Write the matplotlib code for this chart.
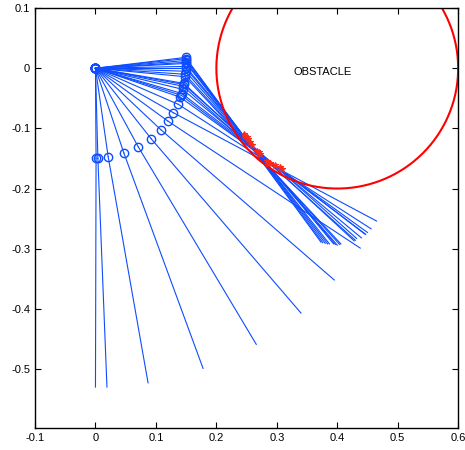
import numpy as np
import matplotlib
matplotlib.use("Agg")
import matplotlib.pyplot as plt

plt.rcParams["font.family"] = ["Liberation Sans", "DejaVu Sans"]

# arm configurations: elbow (joint 2) and tip positions
elbow_x = [0.001, 0.004, 0.021, 0.047, 0.071, 0.092, 0.108, 0.120, 0.129, 0.137,
           0.140, 0.142, 0.143, 0.144, 0.145, 0.146, 0.146, 0.148, 0.148, 0.149,
           0.149, 0.149, 0.150, 0.150, 0.150, 0.150, 0.149]
elbow_y = [-0.150, -0.150, -0.147, -0.141, -0.131, -0.117, -0.102, -0.088, -0.074, -0.060,
           -0.048, -0.045, -0.042, -0.035, -0.030, -0.027, -0.025, -0.014, -0.010, -0.005,
           0.000, 0.003, 0.008, 0.010, 0.013, 0.016, 0.018]
tip_x = [0.000, 0.019, 0.087, 0.178, 0.266, 0.340, 0.395, 0.438, 0.465, 0.456,
         0.450, 0.447, 0.446, 0.440, 0.430, 0.432, 0.428, 0.406, 0.404, 0.400,
         0.397, 0.394, 0.387, 0.384, 0.380, 0.376, 0.373]
tip_y = [-0.530, -0.530, -0.523, -0.499, -0.459, -0.407, -0.352, -0.299, -0.254, -0.267,
         -0.273, -0.276, -0.276, -0.282, -0.286, -0.283, -0.287, -0.292, -0.293, -0.294,
         -0.293, -0.292, -0.292, -0.292, -0.291, -0.290, -0.289]

# contact points marked on the obstacle
contact_x = [0.245, 0.247, 0.250, 0.252, 0.256, 0.259, 0.268, 0.270, 0.272, 0.283,
             0.286, 0.289, 0.297, 0.305, 0.308]
contact_y = [-0.109, -0.112, -0.114, -0.117, -0.122, -0.128, -0.138, -0.140, -0.143, -0.155,
             -0.157, -0.158, -0.161, -0.165, -0.167]

obs_center = (0.4, 0.0)
obs_radius = 0.2

blue = (0.05, 0.3, 1.0)

fig = plt.figure(figsize=(4.65, 4.5), dpi=100)
ax = fig.add_axes([0.0753, 0.049, 0.910, 0.933])

for ex, ey, tx, ty in zip(elbow_x, elbow_y, tip_x, tip_y):
    ax.plot([0, ex], [0, ey], "-o", color=blue, lw=0.8, ms=6, mfc="none", mew=1.0)
    ax.plot([ex, tx], [ey, ty], "-", color=blue, lw=0.8)

th = np.linspace(0, 2 * np.pi, 400)
ax.plot(obs_center[0] + obs_radius * np.cos(th), obs_center[1] + obs_radius * np.sin(th),
        color="red", lw=1.5)
ax.plot(contact_x, contact_y, "*", color=(1.0, 0.15, 0.1), ms=5, mew=0.8)
ax.text(0.375, -0.006, "OBSTACLE", fontsize=8, ha="center", va="center")

ax.set_xlim(-0.1, 0.6)
ax.set_ylim(-0.598, 0.1)
ax.set_xticks(np.round(np.arange(-0.1, 0.61, 0.1), 1))
ax.set_yticks(np.round(np.arange(-0.5, 0.11, 0.1), 1))
ax.set_xticklabels(["-0.1", "0", "0.1", "0.2", "0.3", "0.4", "0.5", "0.6"])
ax.set_yticklabels(["-0.5", "-0.4", "-0.3", "-0.2", "-0.1", "0", "0.1"])
ax.tick_params(direction="in", top=True, right=True, length=4, width=0.8, labelsize=8)
for s in ax.spines.values():
    s.set_linewidth(1.0)

fig.savefig("out.png", dpi=100)
